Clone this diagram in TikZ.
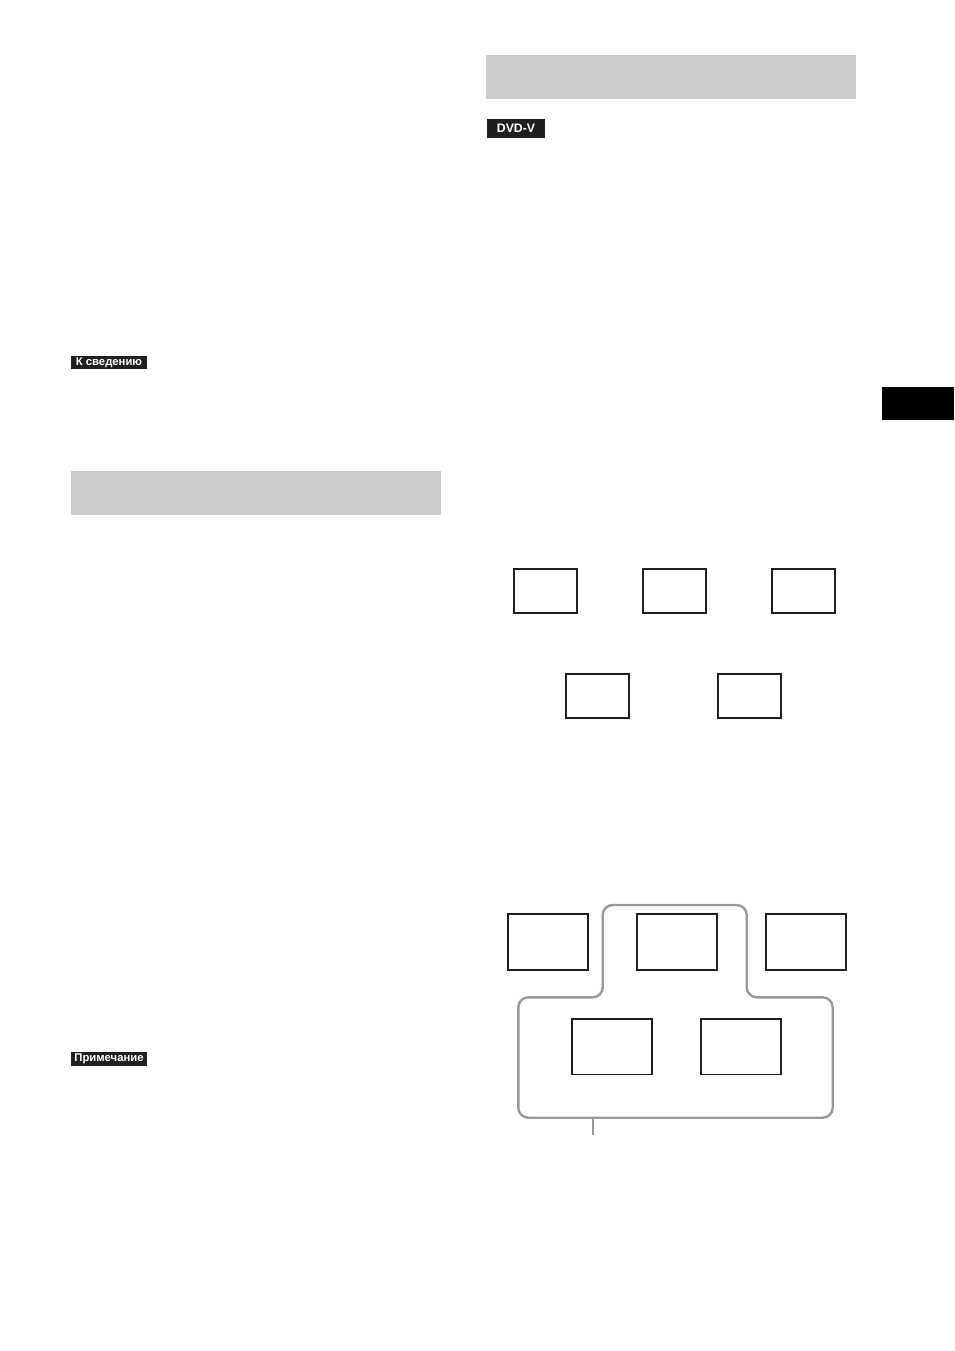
\documentclass[tikz,border=0pt]{standalone}
\usepackage{fontspec}
\setmainfont{Liberation Sans}
\begin{document}
\begin{tikzpicture}[x=1pt,y=-1pt,
  bar/.style={fill=black!20,draw=none,inner sep=0pt,minimum width=370pt,minimum height=44pt},
  tag/.style={fill=black!88,text=white,inner sep=0pt,font=\fontsize{11.3}{12}\selectfont\bfseries},
  scr/.style={draw=black!88,line width=2pt,inner sep=0pt,minimum width=63pt,minimum height=44pt},
  scrb/.style={draw=black!88,line width=1.7pt,inner sep=0pt,minimum width=80pt,minimum height=55.5pt},
  grp/.style={draw=black!40,line width=2.4pt,rounded corners=10pt}]
\useasboundingbox (0,0) rectangle (954,1351);
% gray headings
\node[bar] (h1) at (256,493) {};
\node[bar] (h2) at (671,77.5) {};
% labels
\node[tag,minimum width=76pt,minimum height=13.5pt] (t1) at (109,362.5) {К сведению};
\node[tag,minimum width=76pt,minimum height=14pt] (t2) at (109,1059) {Примечание};
\node[tag,minimum width=58pt,minimum height=19pt,font=\fontsize{12.3}{13}\selectfont\bfseries] (t3) at (516,128.5) {DVD-V};
% black tab
\node[fill=black,inner sep=0pt,minimum width=72pt,minimum height=33pt] (tab) at (918,403.5) {};
% first diagram
\node[scr] (r1) at (545.8,591.2) {};
\node[scr] (r2) at (674,591.2) {};
\node[scr] (r3) at (803,591.2) {};
\node[scr] (r4) at (597.9,696.2) {};
\node[scr] (r5) at (749.5,696.2) {};
% second diagram
\node[scrb] (s1) at (548.3,942) {};
\node[scrb] (s2) at (676.7,942) {};
\node[scrb] (s3) at (806.2,942) {};
\node[scrb] (s4) at (612.2,1046.7) {};
\node[scrb] (s5) at (741,1046.7) {};
\draw[grp] (518.3,997.3) -- (602.7,997.3) -- (602.7,905) -- (746.7,905) -- (746.7,997.3) -- (832.7,997.3) -- (832.7,1117.7) -- (518.3,1117.7) -- cycle;
\coordinate (tk1) at (592.7,1117.7);
\coordinate (tk2) at (592.7,1135);
\draw[draw=black!40,line width=2pt] (tk1) -- (tk2);
\end{tikzpicture}
\end{document}
